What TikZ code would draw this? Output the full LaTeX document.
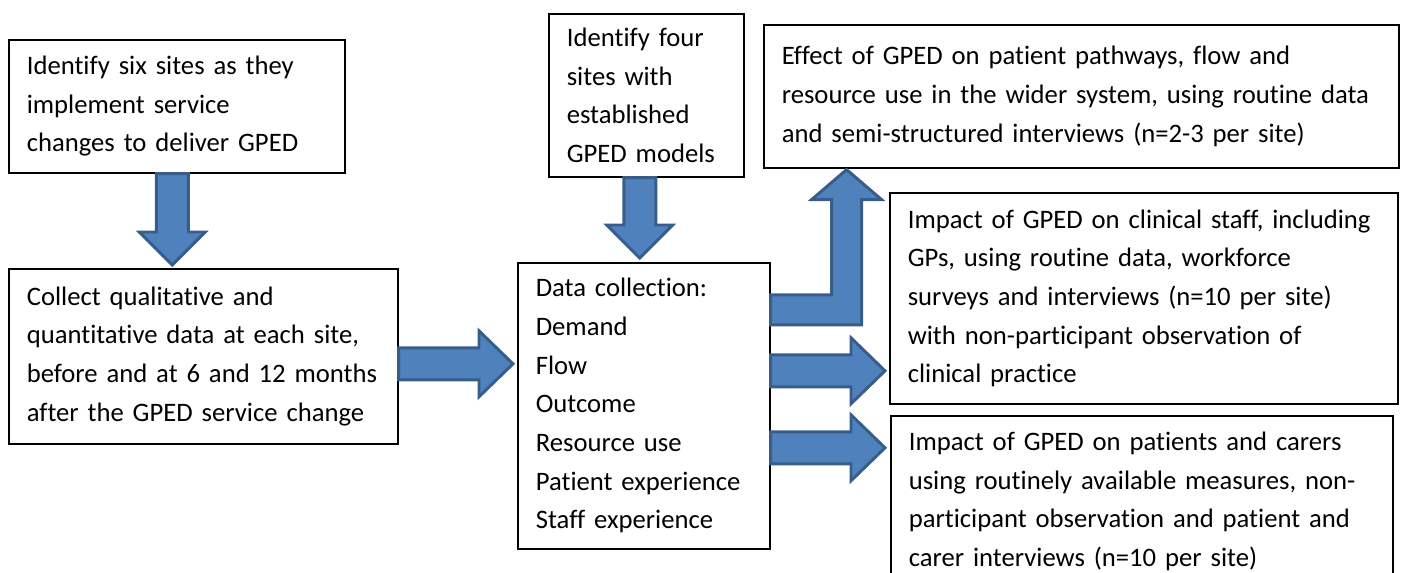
\documentclass[tikz,border=0pt]{standalone}
\usepackage{fontspec}
\setmainfont{Carlito}[Ligatures=CommonOff, WordSpace=0.9]
\usetikzlibrary{calc}

\newcommand{\boxfont}{\fontsize{20}{29}\selectfont}
% fat arrow pointing down: #1 start on the lower edge, #2 tip
\newcommand{\fatdown}[2]{%
  \draw [blockarrow] ($(#1)+(-16,0)$) -- ($(#2)+(-16,-33)$) -- ($(#2)+(-33,-33)$) -- (#2) -- ($(#2)+(33,-33)$) -- ($(#2)+(16,-33)$) -- ($(#1)+(16,0)$) -- cycle ;}
% fat arrow pointing right: #1 start on the right edge, #2 tip
\newcommand{\fatright}[2]{%
  \draw [blockarrow] ($(#1)+(0,-16)$) -- ($(#2)+(-34,-16)$) -- ($(#2)+(-34,-33)$) -- (#2) -- ($(#2)+(-34,33)$) -- ($(#2)+(-34,16)$) -- ($(#1)+(0,16)$) -- cycle ;}

\tikzset{
  box/.style={draw, line width=1.2pt, anchor=north west, align=left, inner xsep=13.5pt, inner ysep=0pt, font=\boxfont},
  blockarrow/.style={draw={rgb,255:red,56;green,93;blue,138}, fill={rgb,255:red,79;green,129;blue,189}, line width=2.2pt},
}

\begin{document}
\begin{tikzpicture}[x=0.75pt,y=0.75pt,yscale=-1,xscale=1]
			\useasboundingbox (0,0) rectangle (1402,572);
			\clip (0,0) rectangle (1402,572);

			%Shape: Rectangle [sixsites]
			\node [box, text width=225pt, minimum height=99.75pt] (sixsites) at (8,39) {Identify six sites as they\\implement service\\changes to deliver GPED};
			%Shape: Rectangle [collect]
			\node [box, text width=264.75pt, minimum height=131.25pt] (collect) at (8,268) {Collect qualitative and\\quantitative data at each site,\\before and at 6 and 12 months\\after the GPED service change};
			%Shape: Rectangle [fourmodels]
			\node [box, text width=119.25pt, minimum height=122.25pt] (fourmodels) at (548,13) {Identify four\\sites with\\established\\GPED models};
			%Shape: Rectangle [datacoll]
			\node [box, text width=162pt, minimum height=214.5pt] (datacoll) at (517,262) {Data collection:\\Demand\\Flow\\Outcome\\Resource use\\Patient experience\\Staff experience};
			%Shape: Rectangle [effect]
			\node [box, text width=449.25pt, minimum height=107.25pt] (effect) at (763,24) {Effect of GPED on patient pathways, flow and\\resource use in the wider system, using routine data\\and semi-structured interviews (n=2-3 per site)};
			%Shape: Rectangle [staff]
			\node [box, text width=354pt, minimum height=158.25pt] (staff) at (889,192) {Impact of GPED on clinical staff, including\\GPs, using routine data, workforce\\surveys and interviews (n=10 per site)\\with non-participant observation of\\clinical practice};
			%Shape: Rectangle [patients]
			\node [box, text width=349.5pt, minimum height=128.25pt] (patients) at (890,415) {Impact of GPED on patients and carers\\using routinely available measures, non-\\participant observation and patient and\\carer interviews (n=10 per site)};

			%Block Arrow: sixsites to collect
			\coordinate (ab1) at ($(sixsites.south)+(-4.5,0)$);
			\coordinate (abtip) at ($(ab1 |- collect.north)+(0,-3)$);
			\fatdown{ab1}{abtip}
			%Block Arrow: fourmodels to datacoll
			\coordinate (dc1) at ($(fourmodels.south)+(-6.5,0)$);
			\coordinate (dctip) at ($(dc1 |- datacoll.north)+(0,-4)$);
			\fatdown{dc1}{dctip}
			%Block Arrow: collect to datacoll
			\coordinate (bc1) at ($(collect.east)+(0,7.5)$);
			\coordinate (bctip) at ($(bc1 -| datacoll.west)+(-4,0)$);
			\fatright{bc1}{bctip}
			%Block Arrow: datacoll to staff
			\coordinate (cf1) at ($(datacoll.east)+(0,-35)$);
			\coordinate (cftip) at ($(cf1 -| staff.west)+(-4,0)$);
			\fatright{cf1}{cftip}
			%Block Arrow: datacoll to patients
			\coordinate (cg1) at ($(datacoll.east)+(0,42)$);
			\coordinate (cgtip) at ($(cg1 -| patients.west)+(-5,0)$);
			\fatright{cg1}{cgtip}
			%Bent Arrow: datacoll to effect
			\coordinate (ce1) at ($(datacoll.east)+(0,-96)$);
			\coordinate (cebend) at ($(ce1)+(76,0)$);
			\coordinate (cetip) at ($(cebend |- effect.south)+(0,1)$);
			\draw [blockarrow] ($(ce1)+(0,-15)$) -- ($(cebend)+(-15,-15)$) -- ($(cetip)+(-15,30)$) -- ($(cetip)+(-35,30)$) -- (cetip) -- ($(cetip)+(35,30)$) -- ($(cetip)+(15,30)$) -- ($(cebend)+(15,15)$) -- ($(ce1)+(0,15)$) -- cycle ;

		\end{tikzpicture}
\end{document}
